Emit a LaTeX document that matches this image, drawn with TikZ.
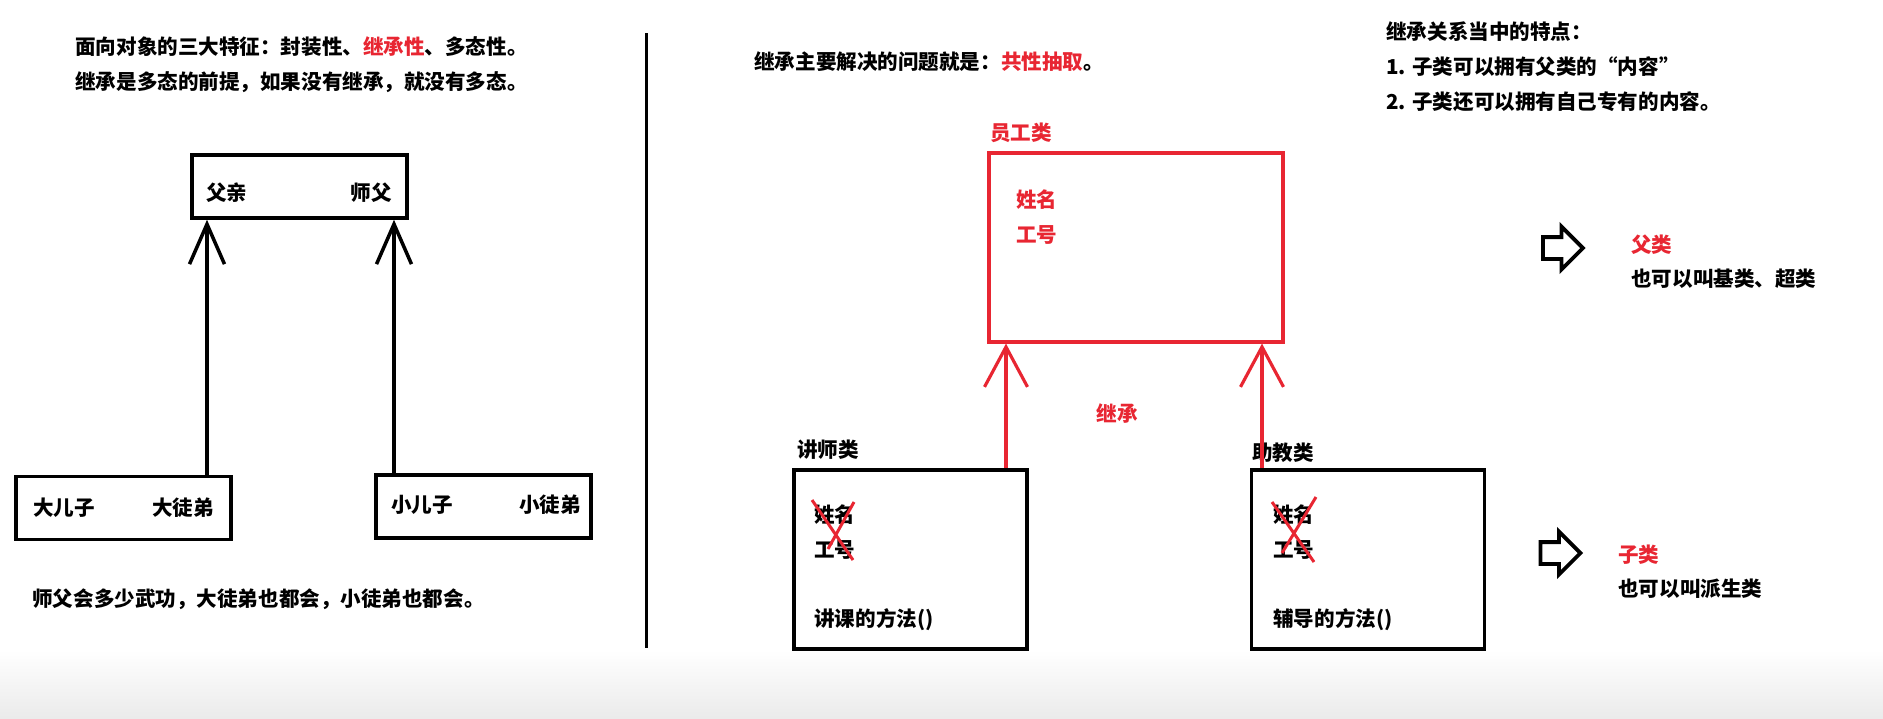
\documentclass[tikz,border=0pt]{standalone}
\usepackage{fontspec}
\setmainfont{Noto Sans CJK SC}
\usetikzlibrary{positioning,shapes.arrows,arrows.meta}
\definecolor{inhred}{RGB}{232,38,50}
\tikzset{txt/.style={anchor=west, inner sep=0pt, font=\fontsize{11.7}{14}\selectfont\bfseries}}

\begin{document}
\begin{tikzpicture}[
    x=0.02cm, y=-0.02cm,
    >=Latex,
    box/.style={draw, line width=2pt, minimum width=4.3cm, minimum height=1.26cm, inner sep=0pt},
    redbox/.style={draw=inhred, line width=1.8pt, inner sep=0pt},
    classbox/.style={draw, line width=2.2pt, minimum width=4.66cm, minimum height=3.58cm, inner sep=0pt},
    blkline/.style={draw, line width=2pt, -{Straight Barb[length=0.8cm, width=0.7cm]}},
    redline/.style={draw=inhred, line width=1.8pt, -{Straight Barb[length=0.8cm, width=0.86cm]}},
    cross/.style={draw=inhred, line width=1.7pt},
    hollow/.style={single arrow, draw, line width=2.2pt, minimum height=0.8cm, minimum width=0.78cm,
        single arrow head extend=0.21cm, inner xsep=0pt, inner ysep=0.18cm}
]
% Page and background
\useasboundingbox (0,0) rectangle (1883,718);
\fill[white] (0,0) rectangle (1883,718);
\shade[top color=white, bottom color=black!8] (0,650) rectangle (1883,718);
% Left notes
\node[txt] (l1) at (75,47) {面向对象的三大特征：封装性、\textcolor{inhred}{继承性}、多态性。};
\node[txt] (l2) at (75,82) {继承是多态的前提，如果没有继承，就没有多态。};
% Father box
\node[box] (father) at (299.5,186.5) {};
\node[txt] at (206,193) {父亲};
\node[txt, anchor=east] at (392,193) {师父};
% Son boxes
\node[box] (son1) at (123.5,508) {};
\node[txt] at (33,508) {大儿子};
\node[txt] at (152,508) {大徒弟};
\node[box] (son2) at (483.5,506.5) {};
\node[txt] at (391,505) {小儿子};
\node[txt] at (519,505) {小徒弟};
\node[txt] (l3) at (32,599) {师父会多少武功，大徒弟也都会，小徒弟也都会。};
% Left arrows
\coordinate (ax1) at (207,0);
\coordinate (ax2) at (394,0);
\draw[blkline] (ax1 |- son1.north) -- (ax1 |- father.south);
\draw[blkline] (ax2 |- son2.north) -- (ax2 |- father.south);
% Divider
\coordinate (divtop) at (646,33);
\coordinate (divbot) at (646,648);
\draw[line width=1.7pt] (divtop) -- (divbot);
% Right notes
\node[txt] (r1) at (754,62) {继承主要解决的问题就是：\textcolor{inhred}{共性抽取}。};
% Employee class
\node[txt, text=inhred] at (990,133) {员工类};
\node[redbox, minimum width=5.88cm, minimum height=3.78cm] (emp) at (1136,247.5) {};
\node[txt, text=inhred] at (1016,200) {姓名};
\node[txt, text=inhred] at (1016,235) {工号};
% Teacher class
\node[txt] at (797,450) {讲师类};
\node[classbox] (teacher) at (910.5,559.5) {};
\node[txt] at (814,515) {姓名};
\node[txt] at (814,550) {工号};
\node[txt] at (814,620) {讲课的方法()};
\draw[cross] (812,500) -- (853,560);
\draw[cross] (854,502) -- (828,549);
% Assistant class
\node[txt] at (1252,453) {助教类};
\node[classbox] (assist) at (1368,559.5) {};
\node[txt] at (1273,515) {姓名};
\node[txt] at (1273,550) {工号};
\node[txt] at (1273,620) {辅导的方法()};
\draw[cross] (1272,502) -- (1314,562);
\draw[cross] (1316,497) -- (1282,553);
% Inheritance arrows
\coordinate (rx1) at (1006,0);
\coordinate (rx2) at (1262,0);
\draw[redline] (rx1 |- teacher.north) -- (rx1 |- emp.south);
\draw[redline] (rx2 |- assist.north) -- (rx2 |- emp.south);
\node[txt, anchor=center, text=inhred] (inh) at (1117,414) {继承};
% Features
\node[txt] (f1) at (1386,32) {继承关系当中的特点：};
\node[txt] (f2) at (1386,67) {1. 子类可以拥有父类的“内容”};
\node[txt] (f3) at (1386,102) {2. 子类还可以拥有自己专有的内容。};
% Parent / child notes
\node[hollow] (h1) at (1557.5,248) {};
\node[txt, text=inhred] at (1631,245) {父类};
\node[txt] at (1631,279) {也可以叫基类、超类};
\node[hollow] (h2) at (1555,553) {};
\node[txt, text=inhred] at (1618,555) {子类};
\node[txt] at (1618,589) {也可以叫派生类};
\end{tikzpicture}
\end{document}
